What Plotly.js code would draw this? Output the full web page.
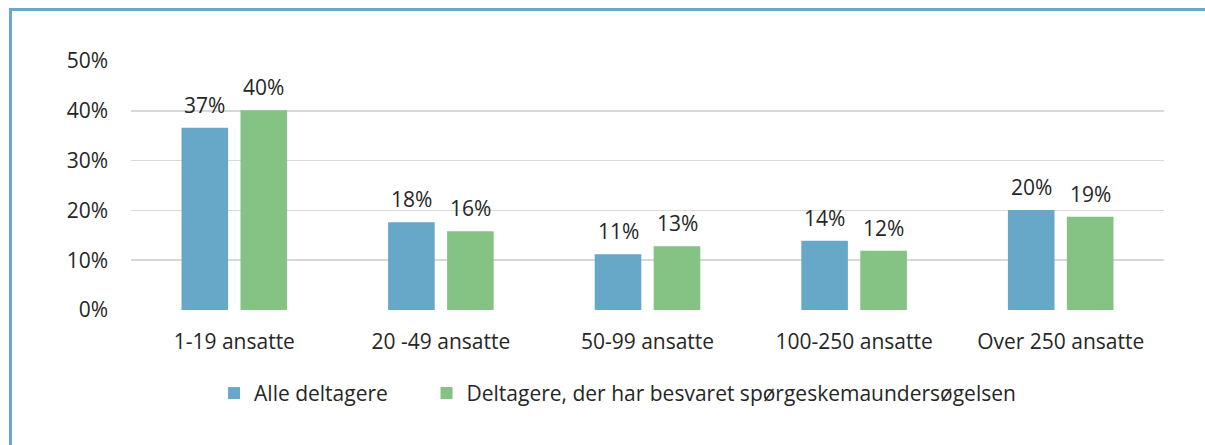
<!DOCTYPE html>
<html>
<head>
<meta charset="utf-8">
<script src="https://cdn.plot.ly/plotly-3.0.1.min.js"></script>
<style>
  html, body { margin: 0; padding: 0; background: #fff; }
  #frame { position: absolute; left: 9px; top: 8px; width: 1196px; height: 437px;
           border-top: 3px solid #6aa8cb; border-left: 3px solid #6aa8cb; box-sizing: border-box; }
  #chart { position: absolute; left: 0; top: 0; width: 1205px; height: 445px; }
</style>
</head>
<body>
<div id="frame"></div>
<div id="chart"></div>
<script>
const categories = ["1-19 ansatte", "20 -49 ansatte", "50-99 ansatte", "100-250 ansatte", "Over 250 ansatte"];
const seriesNames = ["Alle deltagere", "Deltagere, der har besvaret spørgeskemaundersøgelsen"];
const alleDeltagere = [0.366, 0.176, 0.112, 0.139, 0.201];
const besvaret = [0.401, 0.158, 0.128, 0.119, 0.187];
const yTickVals = [0, 0.1, 0.2, 0.3, 0.4, 0.5];
const yTickText = ["0%", "10%", "20%", "30%", "40%", "50%"];

const colors = ["#67a8c9", "#84c383"];
const FONT = "Open Sans, sans-serif";
const FS = 21;
const legendIds = ["legend", "legend2"];

const traces = [alleDeltagere, besvaret].map((vals, i) => ({
  type: "bar",
  name: seriesNames[i],
  x: categories,
  y: vals,
  legend: legendIds[i],
  marker: { color: colors[i], line: { width: 0 } },
  hoverinfo: "skip"
}));

const fmt = v => Math.round(v * 100) + "%";
const annotations = [];
[alleDeltagere, besvaret].forEach((vals, i) => {
  vals.forEach((v, j) => {
    annotations.push({
      x: categories[j], y: v, xref: "x", yref: "y",
      text: fmt(v), showarrow: false,
      xshift: i === 0 ? -29.5 : 29.5,
      yanchor: "bottom", yshift: 7,
      font: { family: FONT, size: FS, color: "#262626" }
    });
  });
});

const legendBase = {
  orientation: "h", xanchor: "left", y: -0.335, yanchor: "middle",
  font: { family: FONT, size: FS, color: "#262626" },
  itemclick: false, itemdoubleclick: false
};

const layout = {
  width: 1205, height: 445,
  paper_bgcolor: "rgba(0,0,0,0)",
  plot_bgcolor: "rgba(0,0,0,0)",
  margin: { l: 131, r: 41, t: 61, b: 135 },
  barmode: "group",
  bargap: 0.429,
  bargroupgap: 0.21,
  showlegend: true,
  legend: Object.assign({}, legendBase, { x: 0.0804 }),
  legend2: Object.assign({}, legendBase, { x: 0.2861 }),
  xaxis: {
    type: "category",
    showgrid: false, zeroline: false, showline: false,
    ticks: "", ticklabelstandoff: 17,
    tickfont: { family: FONT, size: FS, color: "#262626" }
  },
  yaxis: {
    range: [0, 0.5],
    tickvals: yTickVals, ticktext: yTickText,
    showgrid: true, gridcolor: "#d9d9d9", gridwidth: 1.5,
    zeroline: false, showline: false, ticks: "",
    ticklabelstandoff: 22,
    tickfont: { family: FONT, size: FS, color: "#262626" }
  },
  annotations: annotations
};

Plotly.newPlot("chart", traces, layout, { displayModeBar: false, staticPlot: true });
</script>
</body>
</html>
